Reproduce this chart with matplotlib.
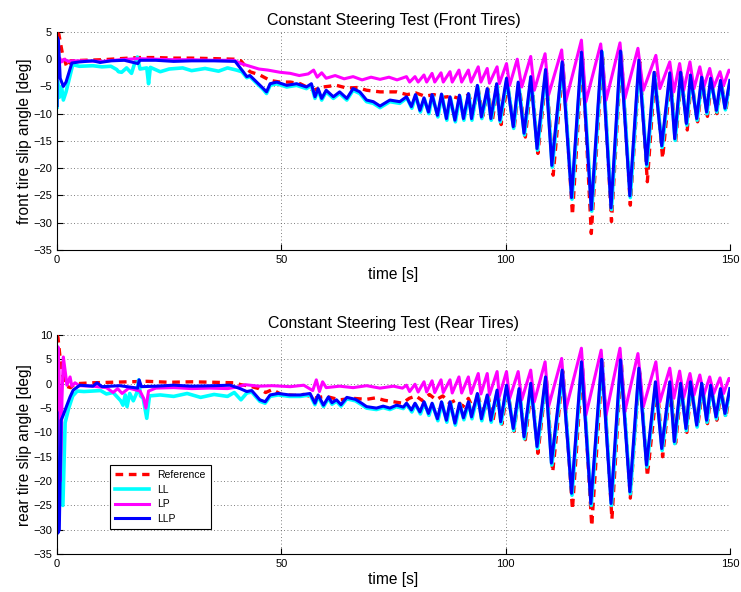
import matplotlib
matplotlib.use("Agg")
import matplotlib.pyplot as plt

plt.rcParams["font.family"] = ["Liberation Sans", "DejaVu Sans"]

# ---------------- front tires (top panel) ----------------
front_ref_t = [0, 0.4, 1.2, 2.2, 3.0, 6, 10, 14, 18, 22, 26, 30, 35, 39.5, 41, 43, 45.2, 47.5, 49.7, 52,
               54.2, 57.1, 59.3, 62.3, 64.6, 67, 69, 72, 75.7, 78, 80, 82, 84, 86, 88, 90, 91.8, 92.8,
               93.9, 94.9, 96.1, 97.0, 98.2, 99.0, 100.4, 101.9, 103.0, 104.4, 105.8, 107.2, 109.1, 110.6,
               112.8, 114.9, 117.1, 119.1, 121.6, 123.6, 125.8, 127.8, 129.9, 131.6, 133.3, 135.0, 136.8,
               137.9, 139.2, 140.5, 141.4, 142.8, 143.9, 145.0, 145.9, 147.1, 148.1, 149.1, 150]
front_ref_v = [4.8, 4.6, 1.0, -1.5, -0.3, -0.2, -0.1, 0.1, 0.3, 0.3, 0.2, 0.2, 0.1, 0.0, -0.3, -2.3, -2.9,
               -3.9, -4.2, -4.2, -4.5, -5.7, -5.1, -4.8, -5.3, -5.2, -5.7, -6.0, -6.0, -6.5, -6.2, -6.8,
               -6.5, -7.0, -6.8, -7.3, -6.5, -9.5, -5.5, -10.5, -5.5, -11.5, -5.0, -12.0, -4.5, -12.8, -4.5,
               -14.3, -3.5, -17.3, -2.5, -21.3, -1.0, -28.6, 0.8, -32.0, 1.0, -29.8, 1.0, -26.8, -0.5,
               -22.5, -2.5, -18.2, -3.0, -15.2, -3.0, -13.0, -3.5, -11.5, -3.8, -10.5, -4.0, -10.0, -4.3,
               -9.5, -4.3]

front_ll_t = [0, 0.1, 0.5, 1.0, 1.4, 2.0, 3.5, 5, 8, 10, 12, 13.3, 13.7, 14.4, 15.5, 16.6, 17.2, 17.9,
              18.5, 20.0, 20.4, 20.8, 23.0, 25, 28, 30, 33, 36, 38, 40, 41.2, 42.3, 43.0, 44.5, 46.0,
              46.7, 47.5, 49.0, 51.2, 53.4, 55.6, 56.7, 57.5, 58.2, 59.0, 60.0, 61.6, 63.0, 64.6, 66.0,
              67.5, 69.0, 70.5, 72.0, 74.2, 76.4, 78.0, 79.1, 80.0, 81.0, 81.9, 82.9, 83.7, 84.9, 85.8,
              86.9, 87.7, 88.8, 89.8, 90.7, 91.8, 92.5, 93.8, 94.7, 96.0, 96.8, 98.1, 98.8, 100.3, 101.8,
              102.9, 104.2, 105.7, 107.1, 109.0, 110.4, 112.7, 114.8, 117.0, 119.2, 121.5, 123.6, 125.7,
              127.8, 129.8, 131.5, 133.2, 134.9, 136.7, 137.8, 139.1, 140.4, 141.3, 142.7, 143.8, 144.9,
              145.8, 147.1, 148.0, 149.0, 150]
front_ll_v = [-8.8, -4.0, -7.0, -5.0, -7.5, -6.0, -1.0, -1.3, -1.2, -1.4, -1.3, -1.9, -2.3, -2.4, -1.6,
              -2.6, -1.0, 0.4, -1.8, -1.6, -4.5, -1.5, -2.3, -1.8, -1.6, -2.1, -1.7, -2.2, -1.6, -2.0,
              -2.3, -3.4, -3.2, -4.4, -5.6, -6.3, -4.8, -4.5, -5.1, -4.8, -5.4, -4.8, -7.2, -5.7, -7.5,
              -6.0, -7.2, -6.3, -7.5, -5.7, -6.3, -7.8, -8.1, -8.9, -7.8, -8.1, -7.1, -9.0, -6.7, -9.7,
              -7.3, -10.0, -6.7, -10.6, -6.6, -11.2, -7.1, -11.5, -6.8, -11.2, -6.5, -11.2, -5.0, -10.9,
              -5.6, -11.2, -4.7, -11.5, -3.7, -12.7, -4.4, -13.9, -3.4, -16.7, -2.1, -19.8, -0.7, -25.7,
              1.1, -27.9, 1.3, -27.6, 1.3, -25.4, -0.4, -19.6, -2.6, -16.2, -2.7, -14.9, -2.6, -12.1,
              -3.1, -11.2, -3.5, -10.0, -3.7, -9.7, -4.1, -9.3, -4.1]

front_lp_t = [0, 0.1, 0.3, 0.6, 1.0, 1.6, 2.5, 3.5, 6, 10, 14, 18, 22, 26, 30, 35, 39.5, 41, 43, 45, 47,
              49.7, 52, 54, 56, 57.2, 58, 59, 60, 62, 64, 66, 68, 70, 72, 74, 75.8, 77.9, 78.6, 79.8,
              80.5, 81.8, 82.4, 83.6, 84.2, 85.6, 86.1, 87.6, 88.1, 89.6, 90.2, 91.7, 92.3, 93.9, 94.5,
              95.9, 96.4, 98.1, 98.6, 100.2, 100.9, 102.6, 103.6, 105.6, 106.4, 108.8, 109.6, 112.5,
              113.4, 116.9, 117.9, 121.2, 122.4, 125.5, 126.6, 129.5, 130.7, 133.5, 134.4, 136.6, 137.5,
              138.8, 139.7, 141.1, 142.0, 143.3, 144.2, 145.5, 146.4, 147.8, 148.6, 149.8, 150]
front_lp_v = [0.0, 0.4, -0.7, 0.2, -0.5, 0.0, -0.4, -0.3, -0.3, -0.4, -0.1, 0.1, 0.0, -0.1, -0.1, -0.2,
              -0.2, -0.8, -1.3, -1.8, -2.0, -2.4, -2.6, -3.0, -2.7, -2.0, -3.3, -2.5, -3.5, -3.0, -3.6,
              -3.2, -3.8, -3.3, -3.7, -3.3, -3.8, -3.2, -4.2, -3.2, -4.2, -2.9, -4.2, -2.6, -4.2, -2.5,
              -4.2, -2.3, -4.2, -2.0, -4.2, -2.0, -4.2, -1.4, -4.2, -1.7, -4.4, -1.4, -4.5, -0.8, -4.8,
              0.0, -5.1, 0.5, -5.7, 1.0, -6.5, 1.7, -7.8, 3.5, -7.8, 2.8, -7.5, 3.0, -7.2, 2.0, -5.7,
              0.7, -5.4, -0.5, -6.0, -0.8, -5.7, -0.5, -5.4, -1.4, -5.1, -1.7, -5.1, -2.3, -4.8, -2.0,
              -2.2]

front_llp_t = [0, 0.05, 0.3, 0.7, 1.4, 2.0, 3.3, 5, 8, 9.6, 12, 15, 18, 18.5, 22, 26, 30, 35, 39.7,
               41.5, 42.3, 43.0, 44.5, 46.0, 46.7, 47.5, 49.0, 51.2, 53.4, 55.6, 56.7, 57.5, 58.2, 59.0,
               60.0, 61.6, 63.0, 64.6, 66.0, 67.5, 69.0, 70.5, 72.0, 74.2, 76.4, 77.9, 79.0, 79.9, 80.9,
               81.8, 82.8, 83.6, 84.8, 85.7, 86.8, 87.6, 88.7, 89.7, 90.6, 91.7, 92.4, 93.7, 94.6, 95.9,
               96.7, 98.0, 98.7, 100.2, 101.7, 102.8, 104.1, 105.6, 107.0, 108.9, 110.3, 112.6, 114.7,
               116.9, 119.1, 121.4, 123.5, 125.6, 127.7, 129.7, 131.4, 133.1, 134.8, 136.6, 137.7, 139.0,
               140.3, 141.2, 142.6, 143.7, 144.8, 145.7, 147.0, 147.9, 148.9, 150]
front_llp_v = [-8.5, 4.0, 3.5, -3.5, -5.0, -4.2, -0.7, -0.5, -0.3, -0.6, -0.3, -0.2, -0.8, -0.2, -0.2,
               -0.4, -0.3, -0.3, -0.4, -2.3, -3.2, -3.0, -4.2, -5.4, -6.0, -4.5, -4.2, -4.8, -4.5, -5.1,
               -4.5, -6.9, -5.4, -7.2, -5.7, -6.9, -6.0, -7.2, -5.4, -6.0, -7.5, -7.8, -8.6, -7.5, -7.8,
               -6.9, -8.7, -6.5, -9.4, -7.1, -9.7, -6.5, -10.3, -6.4, -10.9, -6.9, -11.2, -6.6, -10.9,
               -6.3, -10.9, -4.8, -10.6, -5.4, -10.9, -4.5, -11.2, -3.5, -12.4, -4.2, -13.6, -3.2, -16.4,
               -1.9, -19.5, -0.5, -25.4, 1.3, -27.6, 1.5, -27.3, 1.5, -25.1, -0.2, -19.3, -2.4, -15.9,
               -2.5, -14.6, -2.4, -11.8, -2.9, -10.9, -3.3, -9.7, -3.5, -9.4, -3.9, -9.0, -3.9]

# ---------------- rear tires (bottom panel) ----------------
rear_ref_t = [0, 0.2, 0.6, 1.2, 2.0, 3.0, 4.0, 8, 12, 16, 20, 25, 30, 35, 39.5, 41, 43, 45, 46.5, 48,
              50, 53, 55, 57.5, 60, 63, 66, 69, 71, 73, 75, 77, 78.5, 80, 81.5, 83, 84.5, 86, 87.5, 89,
              90.5, 91.7, 92.8, 93.9, 95.0, 96.1, 97.2, 98.3, 99.2, 100.4, 101.9, 103.0, 104.4, 105.8,
              107.2, 109.1, 110.5, 112.8, 114.9, 117.1, 119.2, 121.6, 123.7, 125.8, 127.8, 129.9, 131.6,
              133.8, 135.0, 136.8, 137.9, 139.2, 140.4, 141.4, 142.8, 143.9, 145.0, 145.9, 147.1, 148.1,
              149.1, 150]
rear_ref_v = [10.0, 9.5, 6.0, 2.0, -0.5, -0.8, 0.0, 0.2, 0.3, 0.4, 0.5, 0.3, 0.4, 0.3, 0.2, -0.2, -0.5,
              -1.0, -1.8, -1.2, -2.2, -2.4, -2.2, -2.9, -2.6, -3.3, -3.0, -3.2, -2.9, -3.4, -3.7, -4.0,
              -3.0, -2.5, -3.5, -2.2, -3.3, -2.5, -4.0, -3.3, -4.7, -3.0, -5.2, -2.5, -6.5, -2.5, -7.5,
              -2.0, -8.3, -1.0, -9.8, -1.5, -11.5, -0.3, -14.3, 1.0, -18.1, 2.5, -25.8, 4.0, -29.2, 4.5,
              -27.8, 4.5, -23.5, 3.0, -19.0, 0.0, -15.0, 0.0, -12.2, -0.5, -10.0, -0.5, -9.0, -1.0, -8.2,
              -1.0, -7.5, -1.3, -7.0, -1.5]

rear_ll_t = [0, 0.2, 0.45, 0.8, 1.3, 1.8, 2.6, 3.5, 4.5, 6, 9.7, 11, 12.5, 14.2, 14.7, 15.2, 15.6, 16.2,
             17.0, 17.8, 18.2, 18.6, 19.2, 20.0, 20.6, 23, 26, 29, 32, 35, 38, 39.5, 41, 42.3, 43.4,
             45.2, 46.4, 47.5, 49.3, 51.8, 54.2, 56.4, 57.5, 58.2, 59.4, 60.5, 61.3, 62.3, 63.3, 64.6,
             66.5, 67.9, 69.0, 71.2, 72.7, 74.2, 75.7, 77.2, 78.0, 79.1, 79.9, 81.0, 81.9, 82.9, 83.7,
             84.9, 85.8, 86.9, 87.7, 88.8, 89.8, 90.7, 91.8, 92.5, 93.8, 94.7, 96.0, 96.8, 98.2, 99.0,
             100.3, 101.8, 103.1, 104.2, 105.7, 107.1, 109.0, 110.3, 112.7, 114.8, 117.0, 119.1, 121.5,
             123.6, 125.7, 127.8, 129.8, 131.5, 133.5, 134.9, 136.7, 137.7, 139.1, 140.3, 141.3, 142.7,
             143.8, 144.9, 145.8, 147.0, 148.0, 149.0, 150]
rear_ll_v = [-1.0, -20.0, -27.0, -8.0, -25.0, -8.0, -5.0, -2.5, -1.5, -1.6, -1.4, -2.1, -1.8, -3.5, -4.4,
             -2.3, -4.7, -2.0, -3.5, -1.8, 0.8, -2.5, -3.0, -7.1, -2.5, -2.3, -2.6, -2.0, -2.8, -2.2,
             -2.6, -1.8, -3.3, -1.9, -1.7, -3.6, -4.0, -2.6, -2.3, -2.6, -2.6, -2.3, -4.3, -2.6, -4.7,
             -3.0, -4.2, -3.6, -4.6, -3.1, -3.5, -4.3, -5.0, -5.3, -4.9, -5.3, -4.7, -5.1, -4.2, -5.8,
             -4.2, -6.2, -3.9, -6.5, -4.2, -7.6, -3.9, -7.9, -3.9, -8.5, -4.2, -7.4, -3.9, -7.2, -2.2,
             -7.6, -2.5, -7.9, -1.5, -8.2, -0.5, -9.6, -1.2, -11.3, -0.1, -13.3, 1.2, -16.7, 2.6, -22.9,
             4.3, -25.0, 4.8, -25.0, 4.7, -22.6, 3.0, -17.1, 0.2, -13.7, 0.2, -12.3, -0.1, -9.6, 0.2,
             -8.9, -0.1, -7.9, -0.5, -7.2, -1.2, -6.5, -1.2]

rear_lp_t = [0, 0.2, 0.45, 0.7, 0.9, 1.1, 1.4, 1.9, 2.2, 2.9, 3.3, 4.0, 5, 8, 11, 12.5, 13.5, 14.5, 16,
             18.5, 19.3, 19.8, 20.4, 22, 26, 30, 34, 38, 40, 42, 45, 48, 52, 55, 57, 57.8, 58.5, 59.2,
             60, 63, 66, 69, 72, 75, 77, 77.9, 78.6, 79.8, 80.5, 81.8, 82.4, 83.6, 84.2, 85.6, 86.1,
             87.6, 88.1, 89.6, 90.2, 91.7, 92.3, 93.9, 94.5, 95.9, 96.4, 98.1, 98.6, 100.2, 100.9,
             102.8, 103.6, 105.6, 106.4, 108.8, 109.6, 112.5, 113.4, 116.9, 117.9, 121.3, 122.4, 125.5,
             126.6, 129.5, 130.7, 133.5, 134.4, 136.6, 137.5, 138.8, 139.7, 141.1, 142.0, 143.3, 144.2,
             145.5, 146.4, 147.8, 148.6, 149.8, 150]
rear_lp_v = [-2.0, 7.6, 2.5, -20.0, -14.0, -3.0, 5.5, 2.0, -0.3, 1.4, -0.5, 0.2, -0.4, -0.5, -0.8, -1.8,
             -1.0, -2.0, -0.9, -1.5, -3.0, -5.0, -1.5, -0.9, -0.8, -1.0, -0.9, -1.0, -0.7, -0.2, -0.5,
             -0.4, -0.6, -0.3, -1.4, 0.8, -1.6, 0.4, -0.8, -0.5, -0.8, -0.4, -0.9, -0.5, -0.9, -0.3,
             -1.6, -0.1, -1.7, 0.4, -1.7, 0.6, -1.8, 0.8, -1.8, 0.8, -1.9, 1.4, -1.9, 1.4, -2.0, 2.1,
             -2.1, 2.1, -2.3, 2.5, -2.6, 2.5, -3.0, 2.5, -3.3, 2.8, -3.7, 4.5, -4.6, 5.2, -5.4, 7.3,
             -6.4, 6.9, -6.4, 7.3, -5.7, 6.2, -4.7, 4.5, -3.7, 3.2, -3.0, 2.6, -2.8, 2.1, -2.3, 1.8,
             -2.3, 1.4, -2.0, 1.2, -2.0, 1.1, 0.8]

rear_llp_t = [0, 0.15, 0.5, 0.9, 1.4, 2.2, 2.9, 3.6, 5.1, 8, 8.9, 10, 14, 18.0, 18.3, 18.8, 22, 26, 30,
              35, 38.6, 40.8, 42.3, 43.4, 45.2, 46.4, 47.5, 49.3, 51.8, 54.2, 56.4, 57.5, 58.2, 59.4,
              60.5, 61.3, 62.3, 63.3, 64.6, 66.5, 67.9, 69.0, 71.2, 72.7, 74.2, 75.7, 77.2, 77.9, 79.0,
              79.8, 80.9, 81.8, 82.8, 83.6, 84.8, 85.7, 86.8, 87.6, 88.7, 89.7, 90.6, 91.7, 92.4, 93.7,
              94.6, 95.9, 96.7, 98.1, 98.9, 100.2, 101.7, 103.0, 104.1, 105.6, 107.0, 108.9, 110.2,
              112.6, 114.7, 116.9, 119.0, 121.4, 123.5, 125.6, 127.7, 129.7, 131.4, 133.4, 134.8, 136.6,
              137.6, 139.0, 140.2, 141.2, 142.6, 143.7, 144.8, 145.7, 146.9, 147.9, 148.9, 150]
rear_llp_v = [-6.0, -30.7, -30.0, -7.5, -6.4, -4.4, -2.7, -1.3, -0.3, -0.5, 0.2, -0.6, -0.4, -0.9, 0.8,
              -0.6, -0.5, -0.3, -0.5, -0.4, -0.3, -1.0, -1.6, -1.4, -3.3, -3.7, -2.3, -2.0, -2.3, -2.3,
              -2.0, -4.0, -2.3, -4.4, -2.7, -3.9, -3.3, -4.3, -2.8, -3.2, -4.0, -4.7, -5.0, -4.6, -5.0,
              -4.4, -4.8, -4.0, -5.4, -4.0, -5.8, -3.7, -6.1, -4.0, -7.2, -3.7, -7.5, -3.7, -8.1, -4.0,
              -7.0, -3.7, -6.8, -2.0, -7.2, -2.3, -7.5, -1.3, -7.8, -0.3, -9.2, -1.0, -10.9, 0.1, -12.9,
              1.4, -16.3, 2.8, -22.5, 4.5, -24.6, 5.0, -24.6, 4.9, -22.2, 3.2, -16.7, 0.4, -13.3, 0.4,
              -11.9, 0.1, -9.2, 0.4, -8.5, 0.1, -7.5, -0.3, -6.8, -1.0, -6.1, -1.0]

panels = [
    ("Constant Steering Test (Front Tires)", "front tire slip angle [deg]", (-35, 5),
     [(front_ref_t, front_ref_v), (front_ll_t, front_ll_v), (front_lp_t, front_lp_v),
      (front_llp_t, front_llp_v)]),
    ("Constant Steering Test (Rear Tires)", "rear tire slip angle [deg]", (-35, 10),
     [(rear_ref_t, rear_ref_v), (rear_ll_t, rear_ll_v), (rear_lp_t, rear_lp_v),
      (rear_llp_t, rear_llp_v)]),
]
labels = ["Reference", "LL", "LP", "LLP"]
styles = [
    dict(color="#ff0000", lw=2.4, ls=(0, (2.3, 1.7)), dash_joinstyle="round"),
    dict(color="#00ffff", lw=2.6, solid_joinstyle="round"),
    dict(color="#ff00ff", lw=2.2, solid_joinstyle="round"),
    dict(color="#0000ff", lw=2.2, solid_joinstyle="round"),
]

fig = plt.figure(figsize=(7.41, 5.92), dpi=100)
positions = [[0.077, 0.578, 0.908, 0.368], [0.077, 0.064, 0.908, 0.370]]

for pos, (title, ylabel, ylim, series) in zip(positions, panels):
    ax = fig.add_axes(pos)
    for (t, v), st, lab in zip(series, styles, labels):
        ax.plot(t, v, label=lab, **st)
    ax.set_xlim(0, 150)
    ax.set_ylim(*ylim)
    ax.set_xticks([0, 50, 100, 150])
    ax.set_yticks(range(ylim[0], ylim[1] + 1, 5))
    ax.grid(True, color="#555555", linestyle=(0, (1, 3)), linewidth=0.6)
    ax.spines["top"].set_visible(False)
    ax.spines["right"].set_visible(False)
    ax.tick_params(direction="in", length=4, labelsize=8)
    ax.set_title(title, fontsize=11.5, pad=5)
    ax.set_xlabel("time [s]", fontsize=11.2, labelpad=2)
    ax.set_ylabel(ylabel, fontsize=11.2, labelpad=1)
    last_ax = ax

leg = last_ax.legend(loc="lower left", bbox_to_anchor=(0.079, 0.114), borderaxespad=0,
                     fontsize=7.5, handlelength=3.2, labelspacing=0.45, fancybox=False,
                     framealpha=1, edgecolor="black", borderpad=0.5)
leg.get_frame().set_linewidth(0.8)

fig.savefig("out.png", dpi=100)
